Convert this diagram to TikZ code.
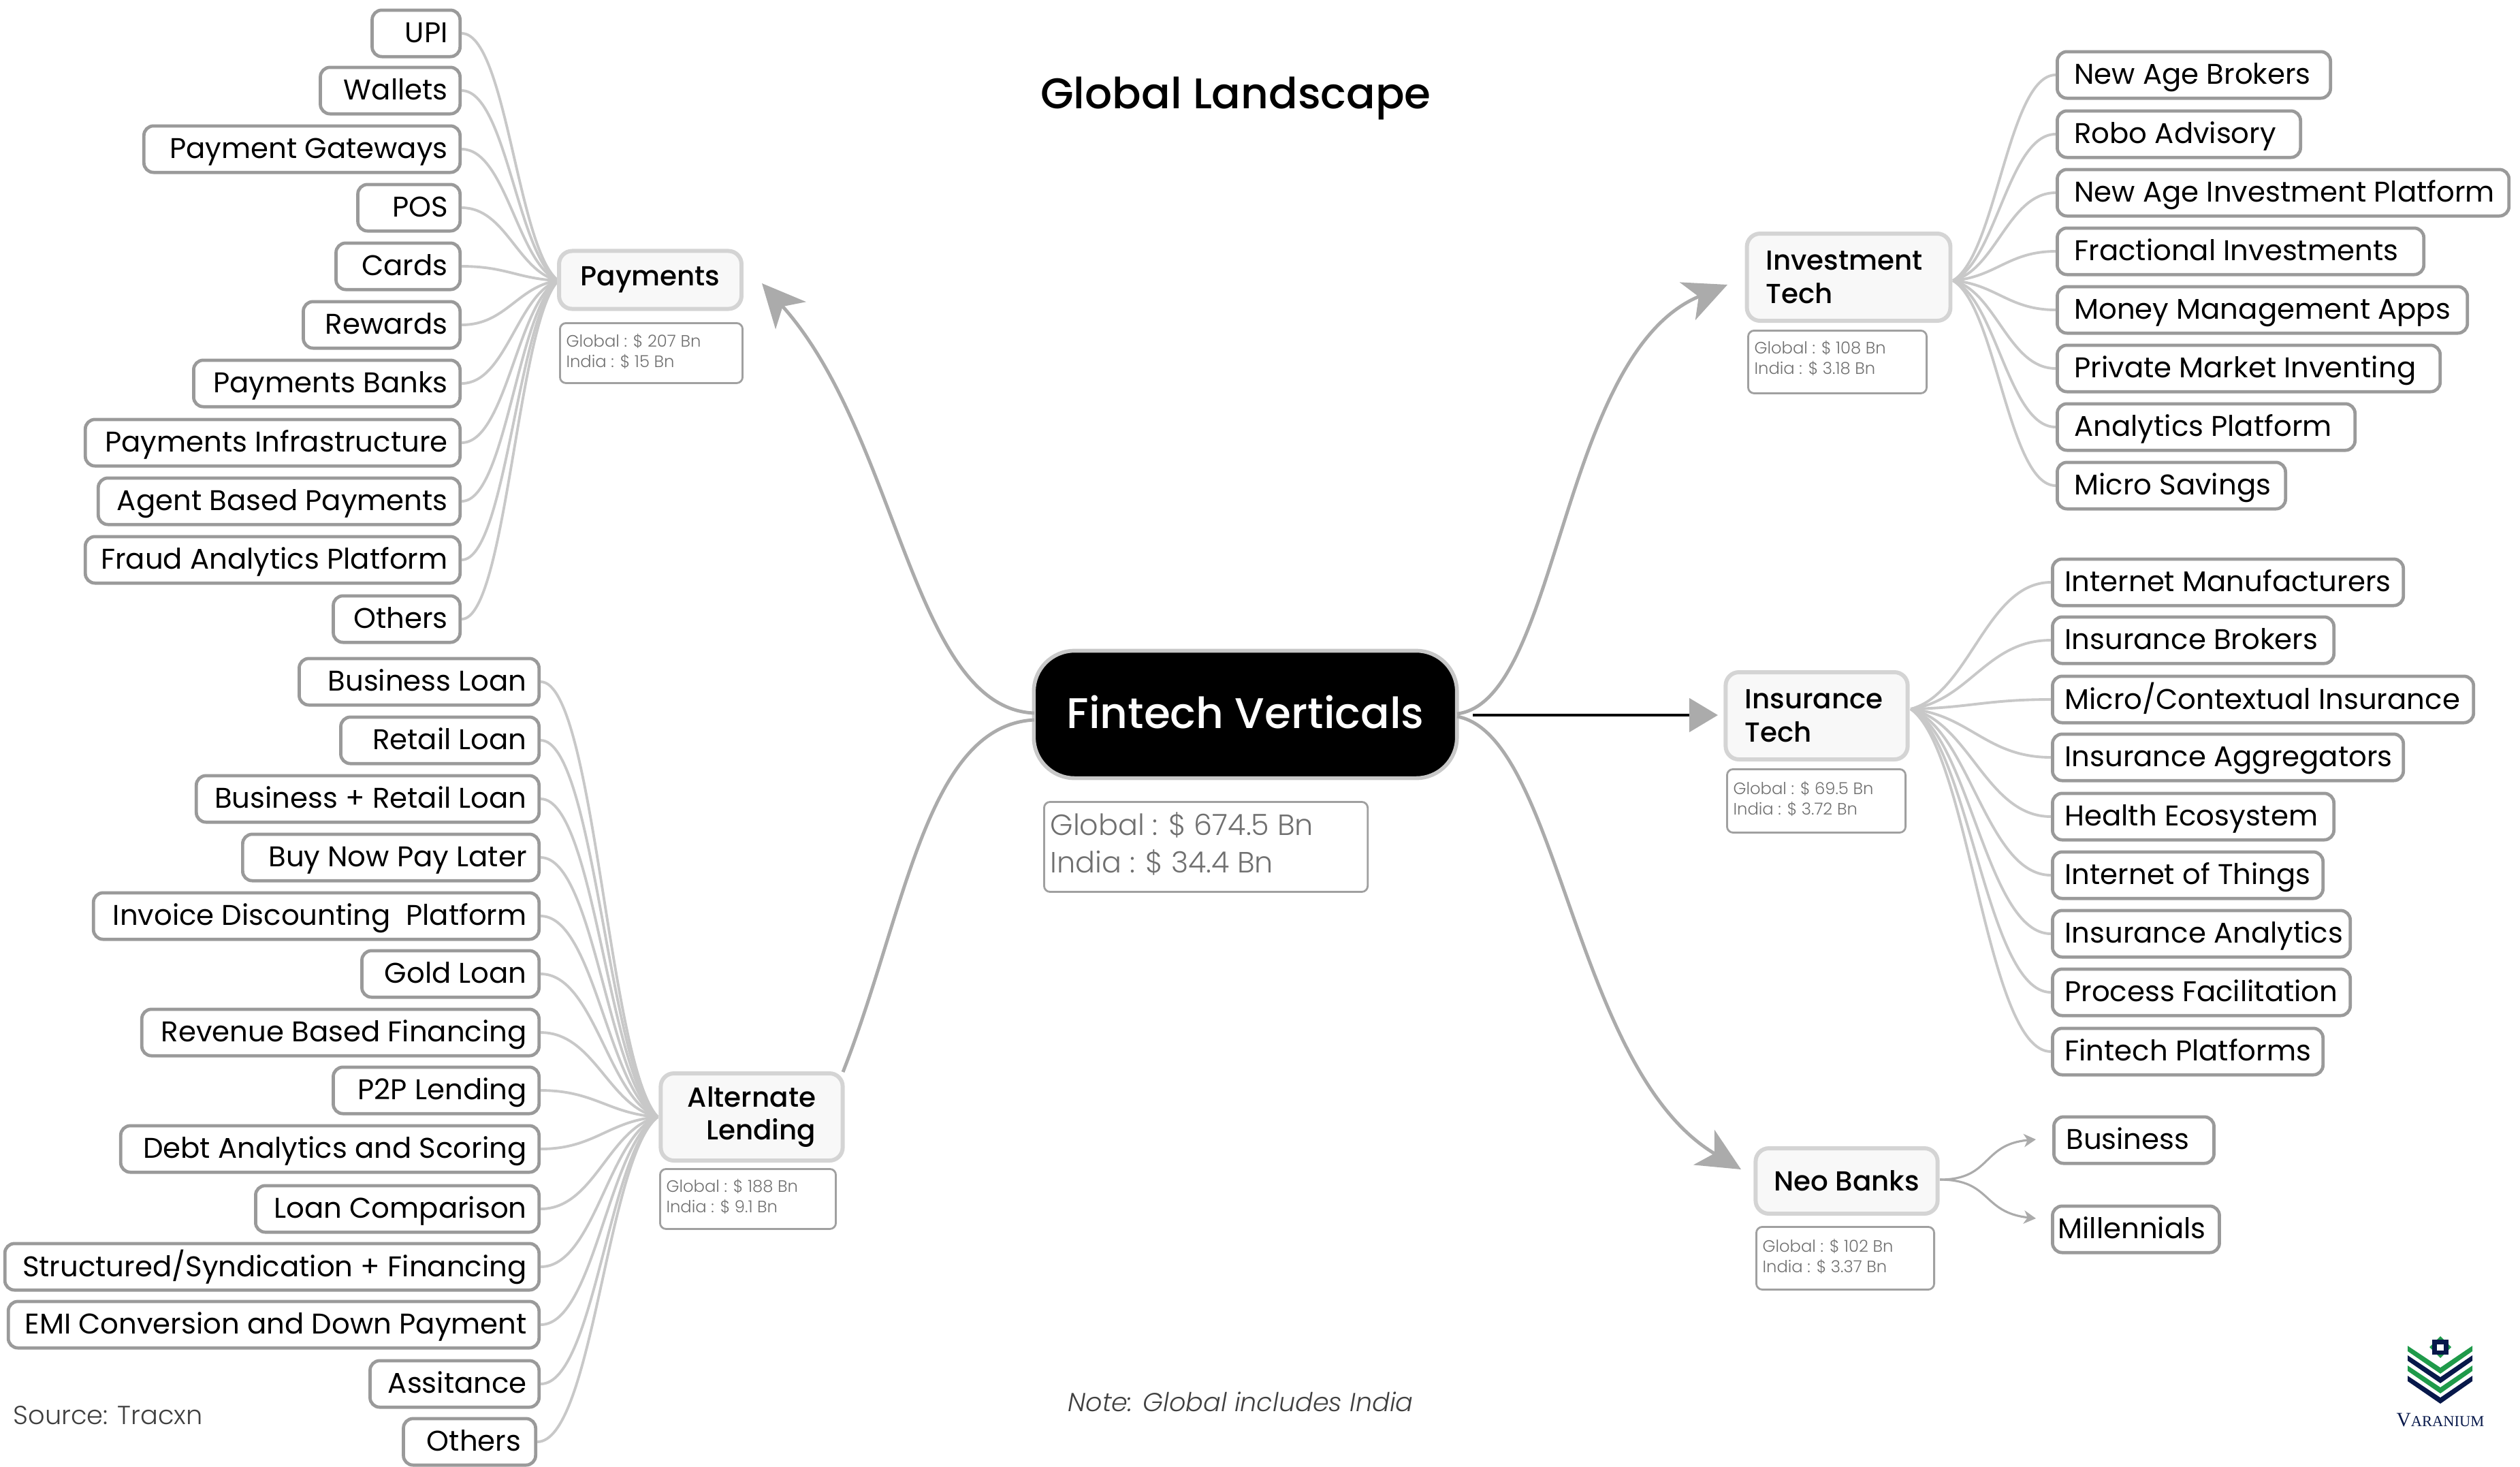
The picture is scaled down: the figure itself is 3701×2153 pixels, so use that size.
\documentclass[tikz,border=0pt]{standalone}
\usepackage{fontspec}
\setmainfont{Poppins}
\newfontfamily\medf{Poppins Medium}
\newfontfamily\lightf{Poppins Light}
\newfontfamily\logof{Liberation Serif}
\usetikzlibrary{calc,arrows.meta}
\definecolor{leafline}{HTML}{9A9A9A}
\definecolor{linkgray}{HTML}{C8C8C8}
\definecolor{maingray}{HTML}{ABABAB}
\definecolor{parentline}{HTML}{D4D4D4}
\definecolor{parentfill}{HTML}{F8F8F8}
\definecolor{statline}{HTML}{A0A0A0}
\definecolor{stattext}{HTML}{707070}
\definecolor{logonavy}{HTML}{07184A}
\definecolor{logogreen}{HTML}{1F9A4A}
\tikzset{
  x=0.01cm,y=-0.01cm,
  leaf/.style={draw=leafline,line width=1.35pt,rounded corners=4pt,fill=white,minimum height=19.4pt,inner xsep=5.1pt,inner ysep=0pt,text=black,font=\fontsize{11.9pt}{14pt}\selectfont},
  parent/.style={draw=parentline,line width=1.7pt,rounded corners=5.5pt,fill=parentfill,inner sep=0pt,text=black,font=\medf\fontsize{11.5pt}{13.9pt}\selectfont},
  centerbox/.style={draw=linkgray,line width=1.6pt,rounded corners=17pt,fill=black,text=white,inner sep=0pt,font=\medf\fontsize{17.9pt}{22pt}\selectfont},
  statbox/.style={draw=statline,line width=.8pt,rounded corners=2.5pt,fill=white,inner sep=0pt,text=stattext},
  leaflink/.style={draw=linkgray,line width=1.1pt},
  mainlink/.style={draw=maingray,line width=1.4pt,-{Stealth[length=18pt,width=17pt,inset=5pt,fill=maingray]}},
  neolink/.style={draw=maingray,line width=.9pt,-{Stealth[length=5pt,width=5.5pt,inset=1.5pt]}},
  blacklink/.style={draw=black,line width=1.4pt,-{Triangle[length=12pt,width=14pt,color=maingray,fill=maingray]}}
}
% name, x1, x2, yc, text : text at the right end of the box
\newcommand\leafL[5]{%
  \pgfmathsetlengthmacro\bw{(#3-#2)*0.284528}%
  \node[leaf,minimum width=\bw,anchor=east] (#1) at (#3+3,#4) {\hbox to \dimexpr\bw-10.2pt\relax{\hss\raisebox{-.7pt}{\vphantom{Ág}#5}}};}
% name, x1, x2, yc, text : text at the left end of the box
\newcommand\leafR[5]{%
  \pgfmathsetlengthmacro\bw{(#3-#2)*0.284528}%
  \node[leaf,minimum width=\bw,anchor=west] (#1) at (#2-2,#4) {\hbox to \dimexpr\bw-10.2pt\relax{\raisebox{-.7pt}{\vphantom{Ág}#5}\hss}};}
% name, x1, y1, x2, y2, fontsize(pt), baseline(pt), top(pt), line1, line2
\newcommand\stat[9]{%
  \pgfmathsetlengthmacro\bw{(#4-#2)*0.284528}%
  \pgfmathsetlengthmacro\bh{(#5-#3)*0.284528}%
  \node[statbox,minimum width=\bw,minimum height=\bh,anchor=north west] (#1) at (#2,#3)
   {\vbox to \bh{\hsize=\bw\vskip #8\relax\lightf\fontsize{#6}{#7}\selectfont\noindent\kern 2.6pt\hbox{#9}\par\statlinetwo\vss}};}
\newcommand\link[3]{% leaf, anchor, hub
  \draw[leaflink] let \p1=(#1.#2), \p2=(#3), \n1={\x2-\x1}, \n2={\y2-\y1} in
   (\p1) .. controls (\x1+0.46*\n1,\y1) and (\x2-0.42*\n1,\y2-0.12*\n2) .. (\p2);}
\begin{document}
\begin{tikzpicture}
\useasboundingbox (0,0) rectangle (3701,2153);

\coordinate (hubP) at (820,412);
\coordinate (hubA) at (966,1640);
\coordinate (hubV) at (2868,412);
\coordinate (hubI) at (2806,1041);

% payment leaves
\leafL{p1}{546}{675}{49}{UPI}
\leafL{p2}{470}{675}{133}{Wallets}
\leafL{p3}{211}{675}{219}{Payment Gateways}
\leafL{p4}{525}{675}{305}{POS}
\leafL{p5}{493}{675}{391}{Cards}
\leafL{p6}{445}{675}{477}{Rewards}
\leafL{p7}{284}{675}{563}{Payments Banks}
\leafL{p8}{125}{675}{650}{Payments Infrastructure}
\leafL{p9}{144}{675}{736}{Agent Based Payments}
\leafL{p10}{125}{675}{822}{Fraud Analytics Platform}
\leafL{p11}{489}{675}{909}{Others}
% lending leaves
\leafL{a1}{439}{791}{1001}{Business Loan}
\leafL{a2}{500}{791}{1087}{Retail Loan}
\leafL{a3}{288}{791}{1173}{Business + Retail Loan}
\leafL{a4}{356}{791}{1259}{Buy Now Pay Later}
\leafL{a5}{137}{791}{1345}{Invoice Discounting\ \ Platform}
\leafL{a6}{531}{791}{1430}{Gold Loan}
\leafL{a7}{208}{791}{1516}{Revenue Based Financing}
\leafL{a8}{489}{791}{1601}{P2P Lending}
\leafL{a9}{177}{791}{1687}{Debt Analytics and Scoring}
\leafL{a10}{375}{791}{1775}{Loan Comparison}
\leafL{a11}{7}{791}{1860}{Structured/Syndication + Financing}
\leafL{a12}{12}{791}{1945}{EMI Conversion and Down Payment}
\leafL{a13}{543}{791}{2032}{Assitance}
\leafL{a14}{592}{786}{2117}{Others\kern 1pt}
% investment leaves
\leafR{v1}{3021}{3422}{110}{\kern 2pt New Age Brokers}
\leafR{v2}{3021}{3378}{197}{\kern 2pt Robo Advisory}
\leafR{v3}{3021}{3684}{283}{\kern 2pt New Age Investment Platform}
\leafR{v4}{3021}{3559}{369}{\kern 2pt Fractional Investments}
\leafR{v5}{3021}{3623}{455}{\kern 2pt Money Management Apps}
\leafR{v6}{3021}{3583}{541}{\kern 2pt Private Market Inventing}
\leafR{v7}{3021}{3458}{627}{\kern 2pt Analytics Platform}
\leafR{v8}{3021}{3356}{713}{\kern 2pt Micro Savings}
% insurance leaves
\leafR{i1}{3014}{3529}{855}{Internet Manufacturers}
\leafR{i2}{3014}{3427}{940}{Insurance Brokers}
\leafR{i3}{3014}{3632}{1027}{Micro/Contextual Insurance}
\leafR{i4}{3014}{3529}{1112}{Insurance Aggregators}
\leafR{i5}{3014}{3427}{1199}{Health Ecosystem}
\leafR{i6}{3014}{3411}{1285}{Internet of Things}
\leafR{i7}{3014}{3451}{1371}{Insurance Analytics}
\leafR{i8}{3014}{3451}{1457}{Process Facilitation}
\leafR{i9}{3014}{3411}{1544}{Fintech Platforms}
% neo leaves
\leafR{n1}{3016}{3251}{1674}{Business}
\leafR{n2}{3014}{3259}{1805}{\kern -2.8pt Millennials}

% leaf links
\foreach \k in {1,...,11}{\link{p\k}{east}{hubP}}
\foreach \k in {1,...,14}{\link{a\k}{east}{hubA}}
\foreach \k in {1,...,8}{\link{v\k}{west}{hubV}}
\foreach \k in {1,...,9}{\link{i\k}{west}{hubI}}

% parents
\node[parent,minimum width=76.2pt,minimum height=24.2pt] (payments) at (955,411) {\raisebox{-.5pt}{Payments}};
\node[parent,minimum width=76pt,minimum height=36.4pt,align=right] (lending) at (1104,1640) {Alternate\\Lending};
\node[parent,minimum width=85pt,minimum height=36.4pt,align=left] (invest) at (2715,407) {\hbox to 69pt{Investment\hss}\\\hbox to 69pt{Tech\hss}};
\node[parent,minimum width=76pt,minimum height=36.4pt,align=left] (insure) at (2668,1051) {\hbox to 60pt{Insurance\hss}\\\hbox to 60pt{Tech\hss}};
\node[parent,minimum width=76pt,minimum height=27.3pt] (neo) at (2712,1734) {Neo Banks};
\node[centerbox,minimum width=176.7pt,minimum height=53.2pt] (center) at (1829,1049) {\raisebox{2.2pt}{Fintech Verticals}};

% stats
\def\statlinetwo{\noindent\kern 2.6pt\hbox{India : \$ 34.4 Bn}}
\stat{cs}{1532}{1176}{2007}{1308}{12.2pt}{15.6pt}{4.4pt}{Global : \$ 674.5 Bn}
\def\statlinetwo{\noindent\kern 2.6pt\hbox{India : \$ 15 Bn}}
\stat{ps}{821}{473}{1089}{561}{6.9pt}{8.6pt}{4.4pt}{Global : \$ 207 Bn}
\def\statlinetwo{\noindent\kern 2.6pt\hbox{India : \$ 9.1 Bn}}
\stat{as}{968}{1715}{1226}{1803}{6.9pt}{8.6pt}{4.2pt}{Global : \$ 188 Bn}
\def\statlinetwo{\noindent\kern 2.6pt\hbox{India : \$ 3.18 Bn}}
\stat{vs}{2566}{484}{2828}{576}{6.9pt}{8.6pt}{4.2pt}{Global : \$ 108 Bn}
\def\statlinetwo{\noindent\kern 2.6pt\hbox{India : \$ 3.72 Bn}}
\stat{is}{2535}{1128}{2797}{1221}{6.9pt}{8.6pt}{5pt}{Global : \$ 69.5 Bn}
\def\statlinetwo{\noindent\kern 2.6pt\hbox{India : \$ 3.37 Bn}}
\stat{ns}{2578}{1800}{2839}{1892}{6.9pt}{8.6pt}{5pt}{Global : \$ 102 Bn}

% main connectors
\coordinate (cl1) at (1519,1047);
\coordinate (cl2) at (1519,1057);
\coordinate (cr1) at (2140,1048);
\coordinate (cr2) at (2140,1052);
\coordinate (tipP) at (1119,416);
\coordinate (tipV) at (2537,418);
\coordinate (tipN) at (2557,1717);
\coordinate (tipI) at (2523,1050);
\coordinate (lendTop) at (1238,1574);
\coordinate (blackStart) at (2163,1050);
\draw[mainlink] (cl1) .. controls (1340,1040) and (1320,640) .. (tipP);
\draw[draw=maingray,line width=1.4pt] (cl2) .. controls (1360,1065) and (1330,1340) .. (lendTop);
\draw[mainlink] (cr1) .. controls (2290,1030) and (2290,520) .. (tipV);
\draw[mainlink] (cr2) .. controls (2290,1080) and (2310,1570) .. (tipN);
\draw[blacklink] (blackStart) -- (tipI);

% neo links
\coordinate (neoOut) at (2849,1732);
\coordinate (tipN1) at (2990,1673);
\coordinate (tipN2) at (2990,1789);
\draw[neolink] (neoOut) .. controls (2925,1732) and (2910,1680) .. (tipN1);
\draw[neolink] (neoOut) .. controls (2925,1732) and (2910,1780) .. (tipN2);

% texts
\node[font=\medf\fontsize{17.9pt}{20pt}\selectfont,inner sep=0pt] (title) at (1815,144) {Global Landscape};
\node[font=\lightf\itshape\fontsize{10.85pt}{12pt}\selectfont,text=black!75,inner sep=0pt] (note) at (1822,2058) {Note: Global includes India};
\node[font=\lightf\fontsize{10.9pt}{12pt}\selectfont,text=black!75,inner sep=0pt,anchor=west] (source) at (19,2078) {Source: Tracxn};

% logo
\foreach \yy/\cc in {1976/logogreen,1990/logonavy,2005/logogreen,2020/logonavy}{
  \fill[\cc] (3536,\yy) -- (3584,\yy+32) -- (3631,\yy) -- (3631,\yy+8) -- (3584,\yy+41) -- (3536,\yy+8) -- cycle;
}
\fill[logogreen] (3568,1978) -- (3584,1962) -- (3600,1978) -- (3584,1994) -- cycle;
\fill[logonavy] (3572,1967) rectangle (3596,1989);
\fill[white] (3579,1974) rectangle (3589,1983);
\node[font=\logof\color{logonavy},inner sep=0pt] (logo) at (3584,2085) {\fontsize{8.4pt}{12pt}\selectfont V\fontsize{6.4pt}{12pt}\selectfont ARANIUM};
\end{tikzpicture}
\end{document}
